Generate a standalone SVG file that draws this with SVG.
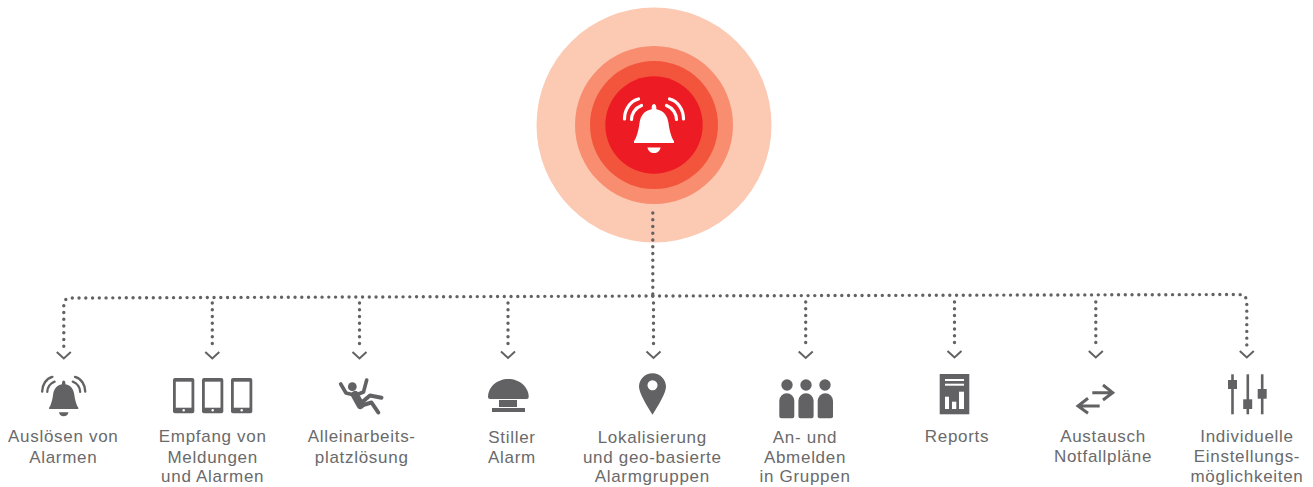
<svg xmlns="http://www.w3.org/2000/svg" xmlns:xlink="http://www.w3.org/1999/xlink" width="1313" height="487" viewBox="0 0 1313 487">
<style>
.lbl{font-family:"Liberation Sans",Arial,sans-serif;font-size:17px;letter-spacing:.7px;fill:#6a6a6b;text-anchor:middle}
.ic{fill:#626264}
.dot{fill:none;stroke:#626264;stroke-width:3.4;stroke-linecap:round;stroke-dasharray:0 6.75}
.arr{marker-end:url(#chev)}
.ln{fill:none;stroke:#626264;stroke-width:3}
</style>
<defs>
<marker id="chev" markerUnits="userSpaceOnUse" markerWidth="20" markerHeight="20" refX="0" refY="0" orient="auto" overflow="visible" viewBox="-2 -10 20 20">
<polyline points="5.500,-7 12,0 5.500,7" fill="none" stroke="#626264" stroke-width="2"/>
</marker>
<g id="bell">
<path d="M-2.300-35.500C-2.300-37.500-1.200-39 0-39S2.300-37.500 2.300-35.500V-33.800C10-32.500 13.500-27 14.500-20 15.500-12 17.500-5.500 20-1.700V0H-20V-1.700C-17.500-5.500-15.500-12-14.500-20-13.500-27-10-32.500-2.300-33.800Z" fill="currentColor"/>
<path d="M-6.500 4.500H6.500C6 8 3.500 10 0 10S-6 8-6.500 4.500Z" fill="currentColor"/>
<g fill="none" stroke="currentColor" stroke-linecap="round" stroke-width="3.200">
<path d="M-29.500-24C-29.500-33-24-42-15.500-44"/>
<path d="M-22.500-23.500C-22.500-29-19-35-12.500-37.500"/>
<path d="M29.500-24C29.500-33 24-42 15.500-44"/>
<path d="M22.500-23.500C22.500-29 19-35 12.500-37.500"/>
</g>
</g>
<g id="phone">
<rect x="0" y="0" width="21.300" height="35.300" rx="2" fill="#626264"/>
<rect x="2.800" y="3.700" width="15.700" height="26" fill="#fff"/>
<circle cx="10.700" cy="32.300" r="1.200" fill="#fff"/>
</g>
</defs>

<g id="alarm-hub">
<circle cx="654" cy="125" r="117.500" fill="#fcc9b3"/>
<circle cx="654" cy="125" r="79" fill="#f88d70"/>
<circle cx="654" cy="125" r="64" fill="#f2553b"/>
<circle cx="654" cy="125" r="48.700" fill="#ed1c24"/>
<use xlink:href="#bell" href="#bell" transform="translate(654 143)" color="#fff"/>
</g>

<g id="connectors">
<path class="dot" d="M652.800 213V296"/>
<path class="dot arr" d="M652.800 296L72 298C66.500 298 63.800 300 63.800 304V346.500"/>
<path class="dot arr" d="M652.800 296L1238 294.500C1244 294.500 1246.800 297 1246.800 302.500V345.500"/>
<path class="dot arr" d="M212.300 303V346.500"/>
<path class="dot arr" d="M359.500 303V346.500"/>
<path class="dot arr" d="M508 303V346"/>
<path class="dot arr" d="M653.500 303V346"/>
<path class="dot arr" d="M805.700 302V346"/>
<path class="dot arr" d="M954.500 302V345.500"/>
<path class="dot arr" d="M1095.800 302V345.500"/>
</g>

<g id="node-ausloesen">
<use xlink:href="#bell" href="#bell" transform="translate(63.700 409) scale(.73)" color="#626264"/>
<text class="lbl" x="63.300" y="442">Auslösen von</text>
<text class="lbl" x="63.300" y="462.500">Alarmen</text>
</g>

<g id="node-empfang">
<use xlink:href="#phone" href="#phone" x="173" y="378"/>
<use xlink:href="#phone" href="#phone" x="202" y="378"/>
<use xlink:href="#phone" href="#phone" x="231" y="378"/>
<text class="lbl" x="212.700" y="442">Empfang von</text>
<text class="lbl" x="212.700" y="462.500">Meldungen</text>
<text class="lbl" x="212.700" y="482.300">und Alarmen</text>
</g>

<g id="node-allein">
<circle class="ic" cx="352.300" cy="386.700" r="4.400"/>
<path d="M340.700 384L346 393L354 395L360.500 405" fill="none" stroke="#626264" stroke-width="3.600" stroke-linecap="round" stroke-linejoin="round"/>
<path d="M366.700 380L363.500 392L356 395" fill="none" stroke="#626264" stroke-width="3.600" stroke-linecap="round" stroke-linejoin="round"/>
<path d="M355 395L360.500 405" fill="none" stroke="#626264" stroke-width="8" stroke-linecap="round"/>
<path d="M360.500 403.500L370 395.500L381.500 397.700" fill="none" stroke="#626264" stroke-width="4" stroke-linecap="round" stroke-linejoin="round"/>
<path d="M361.500 405.500L371.500 402.500L378.300 412.500" fill="none" stroke="#626264" stroke-width="4" stroke-linecap="round" stroke-linejoin="round"/>
<text class="lbl" x="361.700" y="442">Alleinarbeits-</text>
<text class="lbl" x="361.700" y="462.500">platzlösung</text>
</g>

<g id="node-stiller">
<path class="ic" d="M488 397C488 387 497 379 508.300 379S528.700 387 528.700 397Q528.700 399 526.700 399H490Q488 399 488 397Z"/>
<rect class="ic" x="499" y="400" width="18" height="7"/>
<rect class="ic" x="492" y="408" width="33" height="4"/>
<text class="lbl" x="512" y="442.500">Stiller</text>
<text class="lbl" x="512" y="462.500">Alarm</text>
</g>

<g id="node-lokal">
<path class="ic" fill-rule="evenodd" d="M652.500 373.300C660 373.300 666 379.300 666 386.800 666 393 658 406 652.500 414.700 647 406 639 393 639 386.800 639 379.300 645 373.300 652.500 373.300ZM652.500 380.300a5 5 0 1 0 .01 0Z"/>
<text class="lbl" x="652.300" y="442.500">Lokalisierung</text>
<text class="lbl" x="652.300" y="462.500">und geo-basierte</text>
<text class="lbl" x="652.300" y="482">Alarmgruppen</text>
</g>

<g id="node-gruppen">
<circle class="ic" cx="787" cy="385" r="5.700"/>
<circle class="ic" cx="806" cy="385" r="5.700"/>
<circle class="ic" cx="825" cy="385" r="5.700"/>
<path class="ic" d="M779.300 400.800a7.500 7.500 0 0 1 15 0V416.300q0 2-2 2H781.300q-2 0-2-2Z"/>
<path class="ic" d="M798.400 400.800a7.600 7.600 0 0 1 15.200 0V416.300q0 2-2 2H800.400q-2 0-2-2Z"/>
<path class="ic" d="M817.700 400.800a7.650 7.650 0 0 1 15.300 0V416.300q0 2-2 2H819.700q-2 0-2-2Z"/>
<text class="lbl" x="805" y="442.500">An- und</text>
<text class="lbl" x="805" y="462.500">Abmelden</text>
<text class="lbl" x="805" y="482">in Gruppen</text>
</g>

<g id="node-reports">
<rect class="ic" x="939.700" y="374" width="29.600" height="40.300"/>
<g fill="#fff">
<rect x="945" y="379" width="19" height="2"/>
<rect x="945" y="383.700" width="19" height="2"/>
<rect x="945" y="396.700" width="4" height="12.300"/>
<rect x="952" y="401.700" width="4.300" height="7.300"/>
<rect x="959" y="391.700" width="5" height="17.300"/>
</g>
<text class="lbl" x="957" y="442">Reports</text>
</g>

<g id="node-austausch">
<path class="ln" d="M1092.300 392.700H1112M1103 385L1112.700 392.700L1103 400"/>
<path class="ln" d="M1099.700 406H1078.500M1088 398.300L1078 406L1088 413.300"/>
<text class="lbl" x="1103" y="442">Austausch</text>
<text class="lbl" x="1103" y="462">Notfallpläne</text>
</g>

<g id="node-einstellung">
<rect class="ic" x="1231.200" y="374.300" width="2.600" height="40"/>
<rect class="ic" x="1246.500" y="374.300" width="2.600" height="40"/>
<rect class="ic" x="1260.900" y="374.300" width="2.600" height="40"/>
<rect class="ic" x="1228" y="380" width="9" height="9"/>
<rect class="ic" x="1243.200" y="399.300" width="9" height="9.700"/>
<rect class="ic" x="1257.700" y="389" width="9" height="9.700"/>
<text class="lbl" x="1247" y="442">Individuelle</text>
<text class="lbl" x="1247" y="462">Einstellungs-</text>
<text class="lbl" x="1247" y="482">möglichkeiten</text>
</g>
</svg>
